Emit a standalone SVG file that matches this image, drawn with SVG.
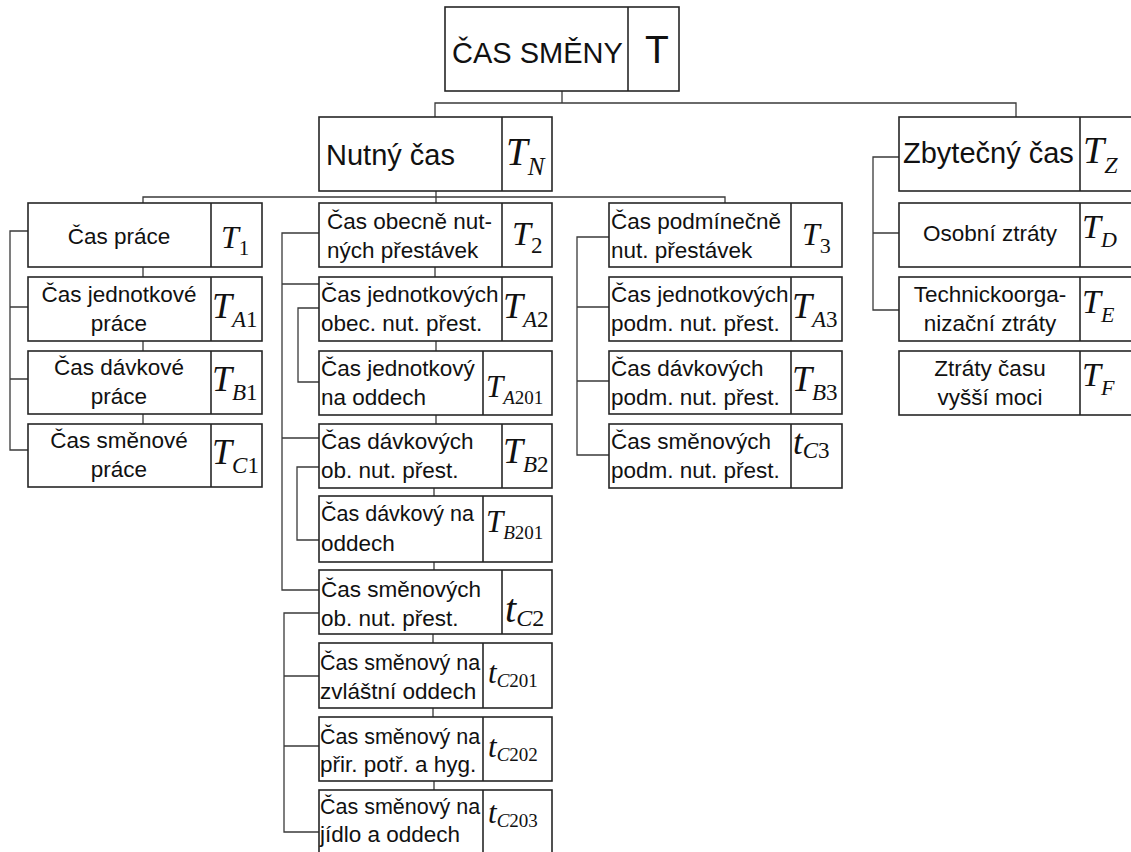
<svg xmlns="http://www.w3.org/2000/svg" width="1131" height="852" viewBox="0 0 1131 852">
  <style>
    .box { fill: #fff; stroke: #262626; stroke-width: 1.6; }
    .dv { stroke: #262626; stroke-width: 1.6; }
    .con { fill: none; stroke: #3a3a3a; stroke-width: 1.3; }
    .t { font-family: "Liberation Sans", Arial, sans-serif; font-size: 22.5px; fill: #111; }
    .big { font-size: 29px; }
    .sm { font-size: 21.5px; }
    .c { text-anchor: middle; }
    .m { font-family: "Liberation Serif", "Times New Roman", serif; font-style: italic; fill: #111; }
    .u { font-style: normal; }
  </style>
  <rect width="1131" height="852" fill="#fff"/>

  <!-- connectors -->
  <g id="connectors" class="con">
    <path d="M562 91 V103 M435 117 V103 H1016 V117"/>
    <path d="M436 191 V203 M143 203 V197 H725 V203"/>
    <!-- column 1 -->
    <path d="M143 267 V277 M143 341 V351 M143 414 V424"/>
    <path d="M28 231 H10 V450 H28 M10 307 H28 M10 379 H28"/>
    <!-- column 2 -->
    <path d="M435 267 V277 M436 341 V351 M436 415 V424 M434 488 V496 M434 562 V570 M433 634 V643 M433 708 V717 M434 781 V790"/>
    <path d="M319 233 H282 V590 H319 M282 284 H319 M282 438 H319"/>
    <path d="M319 308 H298 V382 H319"/>
    <path d="M319 467 H297 V540 H319"/>
    <path d="M319 613 H284 V832 H319 M284 676 H319 M284 746 H319"/>
    <!-- column 3 -->
    <path d="M609 237 H577 V455 H609 M577 307 H609 M577 381 H609"/>
    <!-- column 4 -->
    <path d="M899 157 H873 V310 H899 M873 233 H899"/>
  </g>

  <!-- root -->
  <g id="cas-smeny">
    <rect class="box" x="445" y="7" width="234" height="84"/>
    <line class="dv" x1="628" y1="7" x2="628" y2="91"/>
    <text class="t big" x="452" y="63">ČAS SMĚNY</text>
    <text class="t" x="645" y="63" style="font-size:39px">T</text>
  </g>

  <!-- level 1 -->
  <g id="nutny-cas">
    <rect class="box" x="319" y="117" width="233" height="74"/>
    <line class="dv" x1="502" y1="117" x2="502" y2="191"/>
    <text class="t big" x="326" y="165">Nutný čas</text>
    <text class="m" x="506" y="165" font-size="39">T<tspan font-size="25" dy="10">N</tspan></text>
  </g>
  <g id="zbytecny-cas">
    <rect class="box" x="899" y="117" width="240" height="74"/>
    <line class="dv" x1="1080" y1="117" x2="1080" y2="191"/>
    <text class="t big" x="903" y="163">Zbytečný čas</text>
    <text class="m" x="1083" y="163" font-size="38">T<tspan font-size="24" dy="10">Z</tspan></text>
  </g>

  <!-- column 1 -->
  <g id="cas-prace">
    <rect class="box" x="28" y="203" width="234" height="64"/>
    <line class="dv" x1="211" y1="203" x2="211" y2="267"/>
    <text class="t c" x="119" y="244">Čas práce</text>
    <text class="m" x="221" y="248" font-size="32">T<tspan class="u" font-size="21" dy="7">1</tspan></text>
  </g>
  <g id="cas-jednotkove-prace">
    <rect class="box" x="28" y="277" width="234" height="64"/>
    <line class="dv" x1="211" y1="277" x2="211" y2="341"/>
    <text class="t c" x="119" y="302">Čas jednotkové</text>
    <text class="t c" x="119" y="331">práce</text>
    <text class="m" x="212" y="318" font-size="36">T<tspan font-size="23" dy="9">A</tspan><tspan class="u" font-size="23">1</tspan></text>
  </g>
  <g id="cas-davkove-prace">
    <rect class="box" x="28" y="351" width="234" height="63"/>
    <line class="dv" x1="211" y1="351" x2="211" y2="414"/>
    <text class="t c" x="119" y="375">Čas dávkové</text>
    <text class="t c" x="119" y="404">práce</text>
    <text class="m" x="212" y="391" font-size="36">T<tspan font-size="23" dy="9">B</tspan><tspan class="u" font-size="23">1</tspan></text>
  </g>
  <g id="cas-smenove-prace">
    <rect class="box" x="28" y="424" width="234" height="63"/>
    <line class="dv" x1="211" y1="424" x2="211" y2="487"/>
    <text class="t c" x="119" y="448">Čas směnové</text>
    <text class="t c" x="119" y="477">práce</text>
    <text class="m" x="212" y="464" font-size="36">T<tspan font-size="23" dy="9">C</tspan><tspan class="u" font-size="23">1</tspan></text>
  </g>

  <!-- column 2 -->
  <g id="cas-obecne-nutnych">
    <rect class="box" x="319" y="203" width="233" height="64"/>
    <line class="dv" x1="502" y1="203" x2="502" y2="267"/>
    <text class="t" x="327" y="229">Čas obecně nut-</text>
    <text class="t" x="327" y="258">ných přestávek</text>
    <text class="m" x="512" y="245" font-size="34">T<tspan class="u" font-size="23" dy="8">2</tspan></text>
  </g>
  <g id="cas-jednotkovych-obec">
    <rect class="box" x="319" y="277" width="233" height="64"/>
    <line class="dv" x1="502" y1="277" x2="502" y2="341"/>
    <text class="t" x="321" y="302">Čas jednotkových</text>
    <text class="t" x="321" y="331">obec. nut. přest.</text>
    <text class="m" x="503" y="318" font-size="36">T<tspan font-size="23" dy="9">A</tspan><tspan class="u" font-size="23">2</tspan></text>
  </g>
  <g id="cas-jednotkovy-oddech">
    <rect class="box" x="319" y="351" width="233" height="64"/>
    <line class="dv" x1="483" y1="351" x2="483" y2="415"/>
    <text class="t" x="321" y="376">Čas jednotkový</text>
    <text class="t" x="321" y="405">na oddech</text>
    <text class="m" x="486" y="397" font-size="31">T<tspan font-size="19" dy="7">A</tspan><tspan class="u" font-size="19">201</tspan></text>
  </g>
  <g id="cas-davkovych-ob">
    <rect class="box" x="319" y="424" width="233" height="64"/>
    <line class="dv" x1="502" y1="424" x2="502" y2="488"/>
    <text class="t" x="321" y="449">Čas dávkových</text>
    <text class="t" x="321" y="478">ob. nut. přest.</text>
    <text class="m" x="503" y="463" font-size="36">T<tspan font-size="23" dy="9">B</tspan><tspan class="u" font-size="23">2</tspan></text>
  </g>
  <g id="cas-davkovy-oddech">
    <rect class="box" x="319" y="496" width="233" height="66"/>
    <line class="dv" x1="483" y1="496" x2="483" y2="562"/>
    <text class="t sm" x="321" y="521">Čas dávkový na</text>
    <text class="t" x="321" y="551">oddech</text>
    <text class="m" x="486" y="532" font-size="31">T<tspan font-size="19" dy="7">B</tspan><tspan class="u" font-size="19">201</tspan></text>
  </g>
  <g id="cas-smenovych-ob">
    <rect class="box" x="319" y="570" width="233" height="64"/>
    <line class="dv" x1="502" y1="570" x2="502" y2="634"/>
    <text class="t" x="321" y="597">Čas směnových</text>
    <text class="t" x="321" y="626">ob. nut. přest.</text>
    <text class="m" x="505" y="622" font-size="40">t<tspan font-size="24" dy="4">C</tspan><tspan class="u" font-size="24">2</tspan></text>
  </g>
  <g id="cas-smenovy-zvlastni">
    <rect class="box" x="319" y="643" width="233" height="65"/>
    <line class="dv" x1="483" y1="643" x2="483" y2="708"/>
    <text class="t sm" x="320" y="670">Čas směnový na</text>
    <text class="t" x="320" y="699">zvláštní oddech</text>
    <text class="m" x="488" y="683" font-size="31">t<tspan font-size="19" dy="4">C</tspan><tspan class="u" font-size="19">201</tspan></text>
  </g>
  <g id="cas-smenovy-hyg">
    <rect class="box" x="319" y="717" width="233" height="64"/>
    <line class="dv" x1="483" y1="717" x2="483" y2="781"/>
    <text class="t sm" x="320" y="744">Čas směnový na</text>
    <text class="t" x="320" y="772">přir. potř. a hyg.</text>
    <text class="m" x="488" y="757" font-size="31">t<tspan font-size="19" dy="4">C</tspan><tspan class="u" font-size="19">202</tspan></text>
  </g>
  <g id="cas-smenovy-jidlo">
    <rect class="box" x="319" y="790" width="233" height="72"/>
    <line class="dv" x1="483" y1="790" x2="483" y2="862"/>
    <text class="t sm" x="320" y="814">Čas směnový na</text>
    <text class="t" x="320" y="842">jídlo a oddech</text>
    <text class="m" x="488" y="823" font-size="31">t<tspan font-size="19" dy="4">C</tspan><tspan class="u" font-size="19">203</tspan></text>
  </g>

  <!-- column 3 -->
  <g id="cas-podminecne">
    <rect class="box" x="609" y="203" width="233" height="64"/>
    <line class="dv" x1="791" y1="203" x2="791" y2="267"/>
    <text class="t" x="611" y="229">Čas podmínečně</text>
    <text class="t" x="611" y="258">nut. přestávek</text>
    <text class="m" x="802" y="245" font-size="32">T<tspan class="u" font-size="22" dy="8">3</tspan></text>
  </g>
  <g id="cas-jednotkovych-podm">
    <rect class="box" x="609" y="277" width="233" height="64"/>
    <line class="dv" x1="791" y1="277" x2="791" y2="341"/>
    <text class="t" x="611" y="302">Čas jednotkových</text>
    <text class="t" x="611" y="331">podm. nut. přest.</text>
    <text class="m" x="792" y="318" font-size="36">T<tspan font-size="23" dy="9">A</tspan><tspan class="u" font-size="23">3</tspan></text>
  </g>
  <g id="cas-davkovych-podm">
    <rect class="box" x="609" y="351" width="233" height="63"/>
    <line class="dv" x1="791" y1="351" x2="791" y2="414"/>
    <text class="t" x="611" y="376">Čas dávkových</text>
    <text class="t" x="611" y="405">podm. nut. přest.</text>
    <text class="m" x="792" y="391" font-size="36">T<tspan font-size="23" dy="9">B</tspan><tspan class="u" font-size="23">3</tspan></text>
  </g>
  <g id="cas-smenovych-podm">
    <rect class="box" x="609" y="424" width="233" height="64"/>
    <line class="dv" x1="791" y1="424" x2="791" y2="488"/>
    <text class="t" x="611" y="449">Čas směnových</text>
    <text class="t" x="611" y="478">podm. nut. přest.</text>
    <text class="m" x="793" y="454" font-size="35">t<tspan font-size="23" dy="4">C</tspan><tspan class="u" font-size="23">3</tspan></text>
  </g>

  <!-- column 4 -->
  <g id="osobni-ztraty">
    <rect class="box" x="899" y="203" width="240" height="64"/>
    <line class="dv" x1="1080" y1="203" x2="1080" y2="267"/>
    <text class="t c" x="990" y="241">Osobní ztráty</text>
    <text class="m" x="1082" y="238" font-size="34">T<tspan font-size="22" dy="9">D</tspan></text>
  </g>
  <g id="technickoorganizacni-ztraty">
    <rect class="box" x="899" y="277" width="240" height="64"/>
    <line class="dv" x1="1080" y1="277" x2="1080" y2="341"/>
    <text class="t c" x="990" y="302">Technickoorga-</text>
    <text class="t c" x="990" y="331">nizační ztráty</text>
    <text class="m" x="1082" y="313" font-size="34">T<tspan font-size="22" dy="9">E</tspan></text>
  </g>
  <g id="ztraty-vyssi-moci">
    <rect class="box" x="899" y="351" width="240" height="64"/>
    <line class="dv" x1="1080" y1="351" x2="1080" y2="415"/>
    <text class="t c" x="990" y="376">Ztráty času</text>
    <text class="t c" x="990" y="405">vyšší moci</text>
    <text class="m" x="1082" y="386" font-size="34">T<tspan font-size="22" dy="9">F</tspan></text>
  </g>
</svg>
